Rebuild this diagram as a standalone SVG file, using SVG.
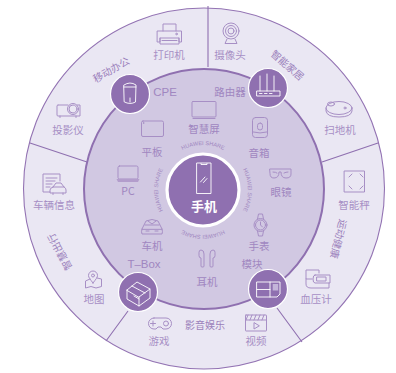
<svg xmlns="http://www.w3.org/2000/svg" width="396" height="373" viewBox="0 0 396 373">
<style>
text{font-family:"Noto Sans CJK SC","Liberation Sans",sans-serif;fill:#a78fc5;text-anchor:middle}
.l{font-size:10.5px}
.i{font-size:10.5px;fill:#a086c0}
.e{font-family:"Liberation Sans",sans-serif;font-size:11.5px;fill:#a086c0}
.s{font-size:10px;fill:#9a80bb}
.h{font-family:"Liberation Sans",sans-serif;font-size:5.6px;fill:#9f86c0}
.g{fill:none;stroke:#a78fc5;stroke-width:1;stroke-linejoin:round;stroke-linecap:round}
.d{fill:none;stroke:#8f70b0;stroke-width:1.1}
.w{fill:none;stroke:#fff;stroke-width:.9;stroke-linejoin:round;stroke-linecap:round}
.b{fill:#8f70b0;stroke:#fff;stroke-width:1.2}
</style>
<defs><path id="arc" d="M158 190A45 45 0 0 1 248 190"/></defs>
<g id="rings">
<circle cx="204" cy="188.500" r="180.500" fill="#eae7f3" stroke="#9373b3" stroke-width="1.100"/>
<circle cx="204" cy="189" r="120" fill="#d1c8e2" stroke="#8f70b0" stroke-width="2"/>
</g>
<g id="connectors">
<path class="d" d="M208 6V67M322 162L378 143M277 308L302 342M128 311L106 341M30 143L87 162"/>
</g>
<g id="center"><circle cx="203" cy="190" r="36" fill="#8f70b0" stroke="#fff" stroke-width="3.200"/>
<path class="w" d="M197 163H211V193.500H197ZM201 163.500V164.500H207V163.500M200.500 182L205 177M203.500 182.500L207 178.500"/><text x="204" y="211" font-size="13" font-weight="700" style="fill:#fff">手机</text></g>
<g id="huawei-share">
<text class="h"><textPath href="#arc" startOffset="50%">HUAWEI SHARE</textPath></text>
<text class="h" transform="rotate(90 203 190)"><textPath href="#arc" startOffset="50%">HUAWEI SHARE</textPath></text>
<text class="h" transform="rotate(180 203 190)"><textPath href="#arc" startOffset="50%">HUAWEI SHARE</textPath></text>
<text class="h" transform="rotate(270 203 190)"><textPath href="#arc" startOffset="50%">HUAWEI SHARE</textPath></text>
</g>
<g id="scene-labels">
<text class="s" transform="translate(113 73) rotate(-30)">移动办公</text>
<text class="s" transform="translate(285 68) rotate(41)">智能家居</text>
<text class="s" transform="translate(63 250) rotate(-118)">智慧出行</text>
<text class="s" transform="translate(335 238) rotate(104)">运动健康</text>
<text class="s" x="205" y="329">影音娱乐</text>
</g>
<g id="printer"><path class="g" d="M163 31V24H176V31M157.500 42H160V38H179V42H181.500V31H157.500ZM160 38V44H179V38M162 40.500H177"/><circle class="g" cx="176.500" cy="34" r=".8"/><text class="l" x="169" y="59">打印机</text></g>
<g id="camera"><circle class="g" cx="231" cy="31" r="8"/><circle class="g" cx="231" cy="31" r="5.500"/><circle class="g" cx="231" cy="31" r="3"/><path class="g" d="M227 39L225 43.500H237L235 39"/><text class="l" x="230" y="59">摄像头</text></g>
<g id="projector"><path class="g" d="M58 105H68M77 105H80V116H58Q57 116 57 115V106Q57 105 58 105M60 116V117.500M76 116V117.500"/><circle class="g" cx="73" cy="109" r="5.500"/><circle class="g" cx="73" cy="109" r="4"/><text class="l" x="68" y="134">投影仪</text></g>
<g id="sweeper"><ellipse class="g" cx="339" cy="108" rx="13" ry="6.500"/><path class="g" d="M326 108V111Q327 117 339 117Q351 117 352 111V108"/><ellipse class="g" cx="331" cy="104" rx="3.500" ry="2" fill="#c4b4d9"/><circle class="g" cx="345" cy="108" r="1"/><text class="l" x="340" y="134">扫地机</text></g>
<g id="car-info"><path class="g" d="M60 181V174H43V192H50M46 178H57M46 181H55M46 184H52M46 187H50M53 187L56 183H61L64 187Q66 188 66 190V193H50V190Q50 188 53 187ZM53 187H64M53 194.500V193M63 194.500V193"/><text class="l" x="54" y="209">车辆信息</text></g>
<g id="scale"><rect class="g" x="344.500" y="171" width="20" height="21"/><path class="g" d="M349 177L352 174M360 174L363 177M349 186L352 189M360 189L363 186"/><text class="l" x="354" y="209">智能秤</text></g>
<g id="map"><path class="g" d="M90 279L85.500 281V288L91 286.500L96 288L101.500 286.500V279L97 278"/><path class="g" d="M93 283C90 279 88.500 277.500 88.500 275.500A4.500 4.500 0 0 1 97.500 275.500C97.500 277.500 96 279 93 283Z"/><circle class="g" cx="93" cy="275.500" r="1.500"/><text class="l" x="94" y="303">地图</text></g>
<g id="pressure"><path class="g" d="M312 279H306V270H319V273M306 279V284Q306 288 311 288H329V283M315 275H330V283H315Q313 283 313 279Q313 275 315 275ZM317 277H326V281H317Z"/><text class="l" x="316" y="303">血压计</text></g>
<g id="game"><path class="g" d="M154 318H166A5.500 5.500 0 0 1 166 329H163L161 327H158L156 329H154A5.500 5.500 0 0 1 154 318ZM153 321V326M150.500 323.500H155.500"/><circle class="g" cx="166" cy="323.500" r="2.500"/><text class="l" x="159" y="345">游戏</text></g>
<g id="video"><rect class="g" x="245.500" y="315" width="21" height="16" rx=".5"/><path class="g" d="M245.500 320H266.500M248 315L246 320M252 315L250 320M256 315L254 320M260 315L258 320M264 315L262 320M254 323V329L259 326Z"/><text class="l" x="256" y="345">视频</text></g>
<g id="cpe"><circle class="b" cx="130" cy="94" r="19.500"/><path class="w" d="M124 85Q130 81 136 85L135.500 102Q130 105 124.500 102ZM124 87H136M130 98V102"/><text class="e" x="165" y="96">CPE</text></g>
<g id="router"><circle class="b" cx="268" cy="88" r="19.500"/><path class="w" d="M257 91H280V96H257ZM260 91V76M267 91V74M274 91V76M259.500 93.500H262M264.500 93.500H267M269.500 93.500H272"/><text class="i" x="230" y="96">路由器</text></g>
<g id="screen"><rect class="g" x="192" y="101.500" width="24" height="15.500" rx="1"/><path class="g" d="M193 118.500H215"/><text class="i" x="204" y="133">智慧屏</text></g>
<g id="tablet"><rect class="g" x="141.500" y="121" width="22" height="15.500" rx="1.500"/><circle class="g" cx="143.500" cy="123" r=".3"/><text class="i" x="152" y="156">平板</text></g>
<g id="speaker"><rect class="g" x="252.500" y="117.500" width="15" height="20" rx="3"/><rect class="g" x="257.500" y="123" width="5" height="7" rx="2.500"/><path class="g" d="M253 132Q260 134 267 132"/><text class="i" x="259" y="157">音箱</text></g>
<g id="laptop"><rect class="g" x="118" y="166" width="20" height="13" rx="1.500"/><path d="M116.500 179H139.500L138 182H118Z" fill="#b39dcc"/><text class="i" x="128" y="195">PC</text></g>
<g id="glasses"><path class="g" d="M270 169H291V174Q291 178 286 178Q281 178 281 172H279Q279 178 274 178Q270 178 270 174ZM273 172Q276 172 277 173M284 173Q286 172 288 172"/><text class="i" x="281" y="196">眼镜</text></g>
<g id="car"><path class="g" d="M142 229L146 221Q152 218 158 221L162 229ZM142 229Q141 232 142 234H162Q163 232 162 229M145 225H159M146 231H149M155 231H158M148 221L152 224L156 221"/><text class="i" x="152" y="250">车机</text></g>
<g id="watch"><circle class="g" cx="260.500" cy="225" r="6.500"/><circle class="g" cx="260.500" cy="225" r="5"/><path class="g" d="M257.500 219L258.500 214H262.500L263.500 219M257.500 231L258.500 236H262.500L263.500 231M260.500 222V225L262.500 227"/><text class="i" x="259" y="250">手表</text></g>
<g id="tbox"><circle class="b" cx="138" cy="292" r="19.500"/><path class="w" d="M127 290L137 282L150 289L139 297ZM127 290V299L139 306L150 298V289M139 297V306M132 286L145 293M134 296L139 299"/><text class="e" x="144" y="268">T–Box</text></g>
<g id="module"><circle class="b" cx="268" cy="289" r="19.500"/><path class="w" d="M257 282H280V294L277 297H257ZM257 289.500H270M270 282V297"/><rect x="272.700" y="284" width="5.500" height="6.500" fill="#c4b4d9"/><text class="i" x="252" y="268">模块</text></g>
<g id="earphones"><path class="g" d="M199 252Q199 250 201 250Q204 250 204 254V266Q204 267 203 267H202Q201 267 201 266V258Q199 258 199 256ZM215 252Q215 250 213 250Q210 250 210 254V266Q210 267 211 267H212Q213 267 213 266V258Q215 258 215 256Z"/><text class="i" x="207" y="286">耳机</text></g>
</svg>
